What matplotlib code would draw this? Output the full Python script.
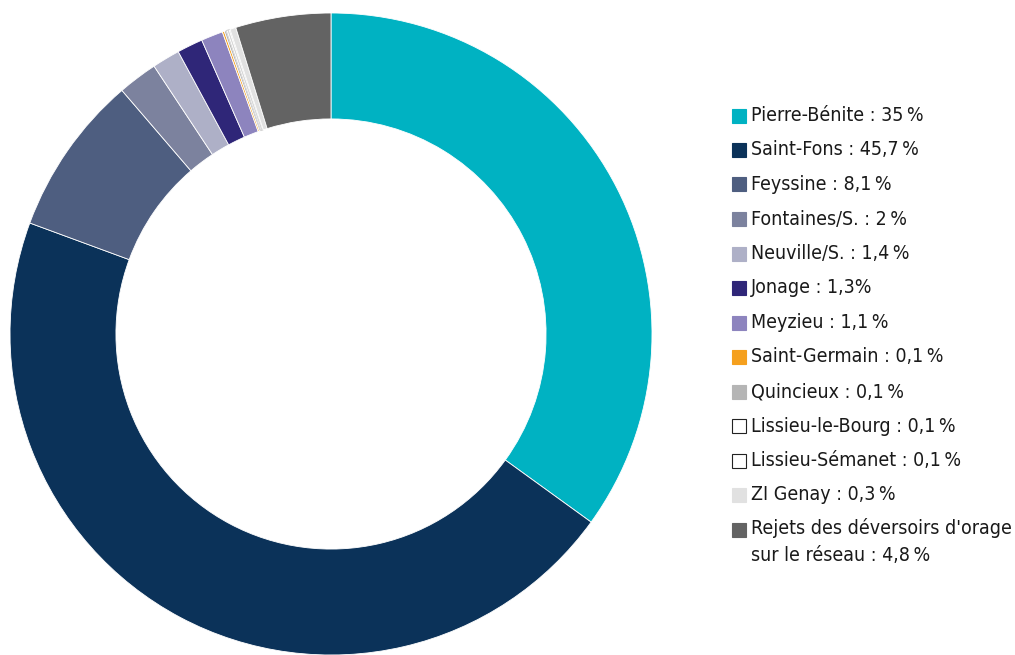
import matplotlib.pyplot as plt
from matplotlib.patches import Rectangle

plt.rcParams['font.family'] = ['DejaVu Sans']
plt.rcParams['font.stretch'] = 'condensed'

stations = ['Pierre-Bénite', 'Saint-Fons', 'Feyssine', 'Fontaines/S.', 'Neuville/S.',
            'Jonage', 'Meyzieu', 'Saint-Germain', 'Quincieux', 'Lissieu-le-Bourg',
            'Lissieu-Sémanet', 'ZI Genay', "Rejets des déversoirs d'orage\nsur le réseau"]
shares = [35, 45.7, 8.1, 2, 1.4, 1.3, 1.1, 0.1, 0.1, 0.1, 0.1, 0.3, 4.8]
share_text = ['35\u2009%', '45,7\u2009%', '8,1\u2009%', '2\u2009%', '1,4\u2009%', '1,3%',
              '1,1\u2009%', '0,1\u2009%', '0,1\u2009%', '0,1\u2009%', '0,1\u2009%',
              '0,3\u2009%', '4,8\u2009%']
colors = ['#00b2c2', '#0b3259', '#4e5e80', '#7c829e', '#aeb0c7', '#2f2678', '#8d84be',
          '#f5a01e', '#b5b5b5', '#ffffff', '#ffffff', '#e1e1e1', '#636363']

W, H = 1015, 655
fig = plt.figure(figsize=(W / 100, H / 100), dpi=100)

# donut: centre (331, 334) px, outer radius 321 px
ax = fig.add_axes([10 / W, 0, 642 / W, 642 / H])
wedges, _ = ax.pie(shares, colors=colors, startangle=90, counterclock=False,
                   radius=1, wedgeprops=dict(width=0.33, edgecolor='white', linewidth=0.6))
for w, c in zip(wedges, colors):
    if c == '#ffffff':
        w.set_edgecolor('#d4d4d4')
ax.set_xlim(-1, 1)
ax.set_ylim(-1, 1)
ax.set_aspect('equal')
ax.axis('off')

# legend drawn by hand, one row per station
y0, step = 115.5, 34.5
for i, (name, txt, c) in enumerate(zip(stations, share_text, colors)):
    yc = y0 + i * step
    edge = '#222222' if c == '#ffffff' else c
    fig.patches.append(Rectangle((732 / W, 1 - (yc + 7) / H), 14 / W, 14 / H,
                                 transform=fig.transFigure, facecolor=c,
                                 edgecolor=edge, linewidth=0.8))
    label = f'{name} : {txt}'
    if '\n' in label:
        fig.text(751 / W, 1 - (yc - 11) / H, label, fontsize=14, color='#1a1a1a',
                 ha='left', va='top', linespacing=1.5)
    else:
        fig.text(751 / W, 1 - yc / H, label, fontsize=14, color='#1a1a1a',
                 ha='left', va='center')

fig.savefig('out.png', dpi=100)
